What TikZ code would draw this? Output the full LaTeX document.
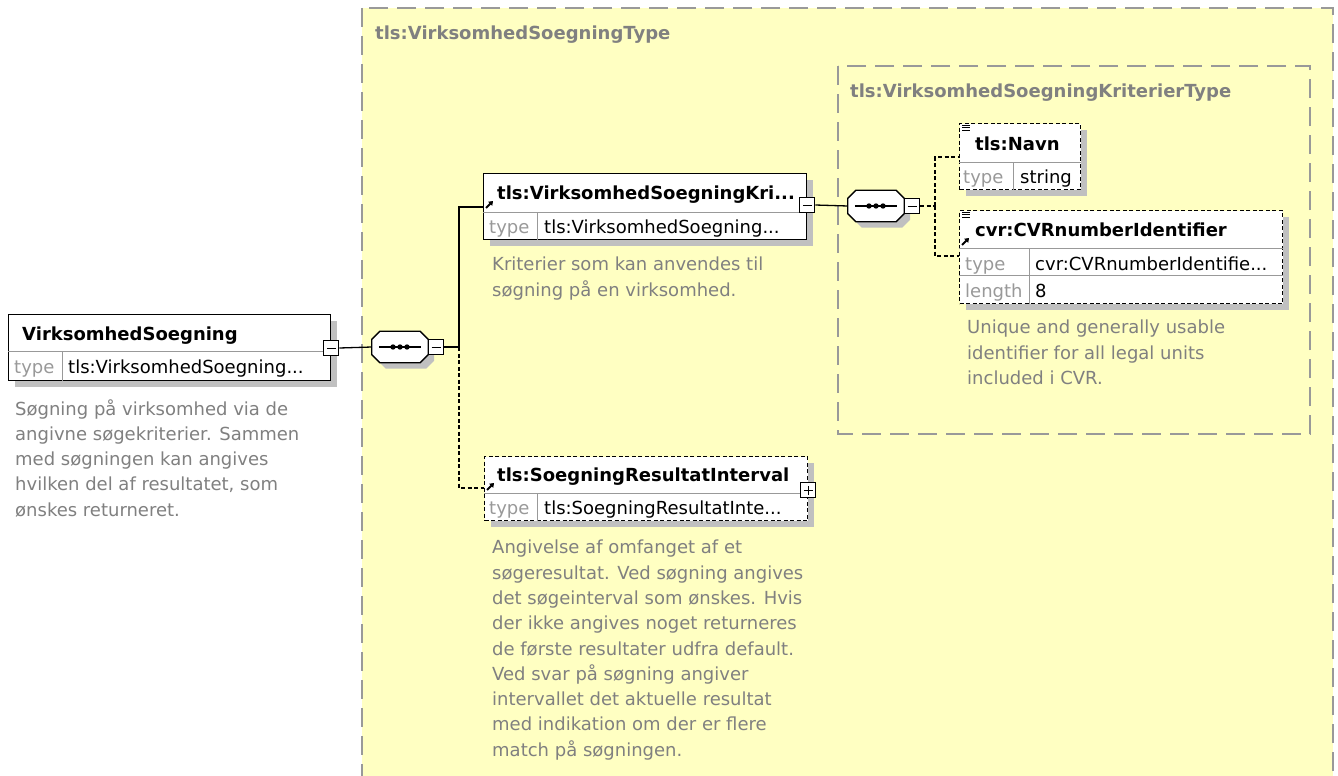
\documentclass[tikz,border=0pt]{standalone}
\usepackage{fontspec}
\setmainfont{DejaVu Sans}
\usepackage{tikz}
\usetikzlibrary{arrows.meta,positioning,shadows,calc}
\definecolor{XSDyellow}{HTML}{FFFFC2}
\definecolor{XSDgray}{HTML}{999999}
\definecolor{XSDdoc}{HTML}{808080}
\definecolor{XSDshadow}{HTML}{C0C0C0}
\tikzset{
  xsd/group/.style={draw=XSDgray, line width=1.8pt, dash pattern=on 19pt off 9pt, fill=XSDyellow},
  xsd/subgroup/.style={draw=XSDgray, line width=1.8pt, dash pattern=on 19pt off 9pt},
  xsd/grouptitle/.style={anchor=base west, inner sep=0pt, text=XSDdoc, font=\bfseries\fontsize{18}{22}\selectfont},
  xsd/element/.style={draw, line width=1.3pt, fill=white, anchor=north west, inner sep=0pt,
    drop shadow={shadow xshift=6pt, shadow yshift=-6pt, fill=XSDshadow, opacity=1}},
  xsd/optelement/.style={xsd/element, dash pattern=on 4pt off 2.5pt},
  xsd/cell/.style={draw=black!40, line width=1pt},
  xsd/name/.style={anchor=base west, inner sep=0pt, font=\bfseries\fontsize{18}{22}\selectfont},
  xsd/typelbl/.style={anchor=base west, inner sep=0pt, text=black!40, font=\fontsize{18}{22}\selectfont},
  xsd/typeval/.style={anchor=base west, inner sep=0pt, font=\fontsize{18}{22}\selectfont},
  xsd/doc/.style={anchor=north west, inner sep=0pt, align=left, text=XSDdoc, font=\fontsize{18}{25.3}\selectfont},
  xsd/seq/.style={minimum width=56pt, minimum height=31pt, inner sep=0pt},
  xsd/seqshape/.style={draw, line width=1.3pt, fill=white},
  xsd/collapse/.style={draw, fill=white, line width=1pt, minimum size=15pt, inner sep=0pt,
    path picture={\draw[line width=1pt] ([xshift=3pt]path picture bounding box.west) -- ([xshift=-3pt]path picture bounding box.east);}},
  xsd/expand/.style={draw, fill=white, line width=1pt, minimum size=15pt, inner sep=0pt,
    path picture={\draw[line width=1pt] ([xshift=3pt]path picture bounding box.west) -- ([xshift=-3pt]path picture bounding box.east);
      \draw[line width=1pt] ([yshift=3pt]path picture bounding box.south) -- ([yshift=-3pt]path picture bounding box.north);}},
  xsd/line/.style={line width=1.3pt},
  xsd/optline/.style={line width=1.3pt, dash pattern=on 4pt off 2.5pt},
  xsd/ref/.style={line width=1.8pt, -{Triangle[length=4pt,width=5.5pt]}},
  xsd/doclines/.style={line width=1pt}
}
% octagon of a sequence compositor, drawn round a named node
\newcommand\xsdseqshape[1]{%
  \fill[XSDshadow] ($(#1.north west)+(14,6)$) -- ($(#1.north east)+(-2,6)$) -- ($(#1.north east)+(6,14)$)
    -- ($(#1.south east)+(6,-2)$) -- ($(#1.south east)+(-2,6)$) -- ($(#1.south west)+(14,6)$)
    -- ($(#1.south west)+(6,-2)$) -- ($(#1.north west)+(6,14)$) -- cycle;
  \draw[xsd/seqshape] ($(#1.north west)+(8,0)$) -- ($(#1.north east)+(-8,0)$) -- ($(#1.north east)+(0,8)$)
    -- ($(#1.south east)+(0,-8)$) -- ($(#1.south east)+(-8,0)$) -- ($(#1.south west)+(8,0)$)
    -- ($(#1.south west)+(0,-8)$) -- ($(#1.north west)+(0,8)$) -- cycle;
  \draw[xsd/line] ([xshift=7pt]#1.west) -- ([xshift=-7pt]#1.east);
  \foreach \d in {-7,0,7}
    \fill ([xshift=\d pt]#1.center) circle (2.7pt);
}

\begin{document}
\begin{tikzpicture}[x=1pt, y=-1pt]
\path[use as bounding box, fill=white] (0,0) rectangle (1338,776);

% complex type containers
\draw[xsd/group] (362,8) rectangle (1333,800);
\node[xsd/grouptitle] (outerTitle) at (375,40) {tls:VirksomhedSoegningType};
\draw[xsd/subgroup] (838,66) rectangle (1310,434);
\node[xsd/grouptitle] (innerTitle) at (850,97) {tls:VirksomhedSoegningKriterierType};

% root element
\node[xsd/element, minimum width=322pt, minimum height=66pt] (rootBox) at (8,314) {};
\draw[xsd/cell] ($(rootBox.north west)+(0,37)$) -- ($(rootBox.north east)+(0,37)$);
\draw[xsd/cell] ($(rootBox.north west)+(54,37)$) -- ($(rootBox.south west)+(54,0)$);
\node[xsd/name] (rootName) at (22,340) {VirksomhedSoegning};
\node[xsd/typelbl] (rootTypeLbl) at (14,373) {type};
\node[xsd/typeval] (rootTypeVal) at (68,373) {tls:VirksomhedSoegning...};
\node[xsd/collapse] (rootMinus) at ($(rootBox.north east)+(0,34)$) {};
\node[xsd/doc] (rootDoc) at (15,399) {Søgning på virksomhed via de\\angivne søgekriterier. Sammen\\med søgningen kan angives\\hvilken del af resultatet, som\\ønskes returneret.};

% sequence of the root type
\node[xsd/seq] (seqA) at (400,347) {};
\xsdseqshape{seqA}
\node[xsd/collapse, right=0pt of seqA] (seqAMinus) {};
\coordinate (busA) at (459,347);

% kriterier element
\node[xsd/element, minimum width=323pt, minimum height=66pt] (kritBox) at (483,173) {};
\draw[xsd/cell] ($(kritBox.north west)+(0,39)$) -- ($(kritBox.north east)+(0,39)$);
\draw[xsd/cell] ($(kritBox.north west)+(54,39)$) -- ($(kritBox.south west)+(54,0)$);
\draw[xsd/ref] ($(kritBox.north west)+(3,35)$) -- ++(7,-7);
\node[xsd/name] (kritName) at (497,199) {tls:VirksomhedSoegningKri...};
\node[xsd/typelbl] (kritTypeLbl) at (489,233) {type};
\node[xsd/typeval] (kritTypeVal) at (544,233) {tls:VirksomhedSoegning...};
\node[xsd/collapse] (kritMinus) at ($(kritBox.north east)+(0,32)$) {};
\coordinate (kritIn) at ($(kritBox.north west)+(0,34)$);
\node[xsd/doc] (kritDoc) at (492,257) {Kriterier som kan anvendes til\\søgning på en virksomhed.};

% resultat interval element
\node[xsd/optelement, minimum width=323pt, minimum height=64pt] (intvBox) at (484,456) {};
\draw[xsd/cell] ($(intvBox.north west)+(0,37)$) -- ($(intvBox.north east)+(0,37)$);
\draw[xsd/cell] ($(intvBox.north west)+(53,37)$) -- ($(intvBox.south west)+(53,0)$);
\draw[xsd/ref] ($(intvBox.north west)+(3,34)$) -- ++(7,-7);
\node[xsd/name] (intvName) at (497,481) {tls:SoegningResultatInterval};
\node[xsd/typelbl] (intvTypeLbl) at (489,514) {type};
\node[xsd/typeval] (intvTypeVal) at (544,514) {tls:SoegningResultatInte...};
\node[xsd/expand] (intvPlus) at ($(intvBox.north east)+(0,34)$) {};
\coordinate (intvIn) at ($(intvBox.north west)+(0,32)$);
\node[xsd/doc] (intvDoc) at (492,540) {Angivelse af omfanget af et\\søgeresultat. Ved søgning angives\\det søgeinterval som ønskes. Hvis\\der ikke angives noget returneres\\de første resultater udfra default.\\Ved svar på søgning angiver\\intervallet det aktuelle resultat\\med indikation om der er flere\\match på søgningen.};

% sequence of the kriterier type
\node[xsd/seq] (seqB) at (876,206) {};
\xsdseqshape{seqB}
\node[xsd/collapse, right=0pt of seqB] (seqBMinus) {};
\coordinate (busB) at (935,206);

% navn element
\node[xsd/optelement, minimum width=121pt, minimum height=66pt] (navnBox) at (959,123) {};
\draw[xsd/cell] ($(navnBox.north west)+(0,39)$) -- ($(navnBox.north east)+(0,39)$);
\draw[xsd/cell] ($(navnBox.north west)+(54,39)$) -- ($(navnBox.south west)+(54,0)$);
\foreach \k in {0,2.5,5}
  \draw[xsd/doclines] ($(navnBox.north west)+(3,2+\k)$) -- ++(8,0);
\node[xsd/name] (navnName) at (975,150) {tls:Navn};
\node[xsd/typelbl] (navnTypeLbl) at (963,183) {type};
\node[xsd/typeval] (navnTypeVal) at (1020,183) {string};
\coordinate (navnIn) at ($(navnBox.north west)+(0,34)$);

% cvr element
\node[xsd/optelement, minimum width=323pt, minimum height=93pt] (cvrBox) at (959,210) {};
\draw[xsd/cell] ($(cvrBox.north west)+(0,38)$) -- ($(cvrBox.north east)+(0,38)$);
\draw[xsd/cell] ($(cvrBox.north west)+(0,65)$) -- ($(cvrBox.north east)+(0,65)$);
\draw[xsd/cell] ($(cvrBox.north west)+(70,38)$) -- ($(cvrBox.south west)+(70,0)$);
\foreach \k in {0,2.5,5}
  \draw[xsd/doclines] ($(cvrBox.north west)+(3,2+\k)$) -- ++(8,0);
\draw[xsd/ref] ($(cvrBox.north west)+(3,35)$) -- ++(7,-7);
\node[xsd/name] (cvrName) at (975,236) {cvr:CVRnumberIdentifier};
\node[xsd/typelbl] (cvrTypeLbl) at (965,270) {type};
\node[xsd/typeval] (cvrTypeVal) at (1035,270) {cvr:CVRnumberIdentifie...};
\node[xsd/typelbl] (cvrLenLbl) at (965,297) {length};
\node[xsd/typeval] (cvrLenVal) at (1035,297) {8};
\coordinate (cvrIn) at ($(cvrBox.north west)+(0,46)$);
\node[xsd/doc] (cvrDoc) at (967,320) {Unique and generally usable\\identifier for all legal units\\included i CVR.};

% connectors
\draw[xsd/line] (rootMinus.east) -- (seqA.west);
\draw[xsd/line] (seqAMinus.east) -- (busA);
\draw[xsd/line] (busA) |- (kritIn);
\draw[xsd/optline] (busA) |- (intvIn);
\draw[xsd/line] (kritMinus.east) -- (seqB.west);
\draw[xsd/optline] (seqBMinus.east) -- (busB);
\draw[xsd/optline] (busB) |- (navnIn);
\draw[xsd/optline] (busB) |- (cvrIn);

\end{tikzpicture}
\end{document}
